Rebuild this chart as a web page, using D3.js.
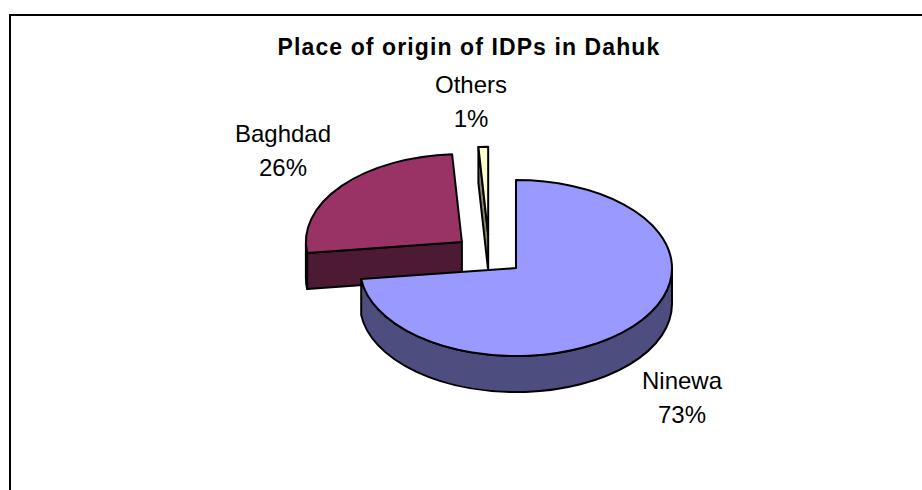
<!DOCTYPE html>
<html>
<head>
<meta charset="utf-8">
<script src="https://cdn.jsdelivr.net/npm/d3@7"></script>
<style>
  body { margin: 0; background: #fff; }
  svg { display: block; }
</style>
</head>
<body>
<div id="chart"></div>
<script>
const W = 922, H = 490

const title = "Place of origin of IDPs in Dahuk"
const places = ["Ninewa", "Baghdad", "Others"]
const shares = [73, 26, 1]
const topColors = ["#9999FF", "#993366", "#FFFFCC"]
const sideColors = ["#4D4D80", "#4D1A33", "#858566"]

// label anchor points (centre x, first baseline y)
const labelPos = [[682, 389], [283, 142], [471, 93]]

const svg = d3.select("#chart")
    .append("svg")
    .attr("width", W)
    .attr("height", H)

// frame around the chart
svg.append("rect")
    .attr("x", 10)
    .attr("y", 15)
    .attr("width", W + 20)
    .attr("height", H + 20)
    .attr("fill", "none")
    .attr("stroke", "black")
    .attr("stroke-width", 2)

svg.append("text")
    .attr("x", 469)
    .attr("y", 55)
    .attr("text-anchor", "middle")
    .attr("font-family", "Liberation Sans, Arial, sans-serif")
    .attr("font-weight", "bold")
    .attr("font-size", 23)
    .attr("letter-spacing", 1.1)
    .text(title)

// 3D pie geometry
const CX = 489.3, CY = 254.8
const RX = 156, RY = 88, DEPTH = 36, EXPLODE = 0.228

const pie = d3.pie().sort(null).startAngle(0).endAngle(2 * Math.PI)
const arcs = pie(shares).map((d, i) => {
    const mid = (d.startAngle + d.endAngle) / 2
    return {
        ...d, i,
        ax: CX + EXPLODE * RX * Math.sin(mid),
        ay: CY - EXPLODE * RY * Math.cos(mid)
    }
})

const pt = (s, t, dy = 0) => [s.ax + RX * Math.sin(t), s.ay - RY * Math.cos(t) + dy]

function topPath(s) {
    const p0 = pt(s, s.startAngle), p1 = pt(s, s.endAngle)
    const large = s.endAngle - s.startAngle > Math.PI ? 1 : 0
    return `M${s.ax},${s.ay}L${p0}A${RX},${RY} 0 ${large} 1 ${p1}Z`
}

function outerSide(s) {
    const a = Math.max(s.startAngle, Math.PI / 2)
    const b = Math.min(s.endAngle, 3 * Math.PI / 2)
    if (b <= a) return null
    const p0 = pt(s, a), p1 = pt(s, b), q1 = pt(s, b, DEPTH), q0 = pt(s, a, DEPTH)
    return `M${p0}A${RX},${RY} 0 0 1 ${p1}L${q1}A${RX},${RY} 0 0 0 ${q0}Z`
}

function cutFace(s, t) {
    const p = pt(s, t), q = pt(s, t, DEPTH)
    return `M${s.ax},${s.ay}L${p}L${q}L${s.ax},${s.ay + DEPTH}Z`
}

const drawOrder = arcs.slice().sort((a, b) => a.ay - b.ay)

const g = svg.append("g")
    .attr("stroke", "black")
    .attr("stroke-width", 2)
    .attr("stroke-linejoin", "round")

drawOrder.forEach(s => {
    // cut face at start angle faces the viewer when sin(start) < 0
    if (Math.sin(s.startAngle) < -0.01) {
        g.append("path").attr("d", cutFace(s, s.startAngle)).attr("fill", sideColors[s.i])
    }
    if (Math.sin(s.endAngle) > 0.01) {
        g.append("path").attr("d", cutFace(s, s.endAngle)).attr("fill", sideColors[s.i])
    }
    const side = outerSide(s)
    if (side) g.append("path").attr("d", side).attr("fill", sideColors[s.i])
    g.append("path").attr("d", topPath(s)).attr("fill", topColors[s.i])
})

// labels
const total = d3.sum(shares)
arcs.forEach(s => {
    const [lx, ly] = labelPos[s.i]
    const t = svg.append("text")
        .attr("text-anchor", "middle")
        .attr("font-family", "Liberation Sans, Arial, sans-serif")
        .attr("font-size", 24)
    t.append("tspan").attr("x", lx).attr("y", ly).text(places[s.i])
    t.append("tspan").attr("x", lx).attr("y", ly + 34)
        .text(Math.round(shares[s.i] / total * 100) + "%")
})
</script>
</body>
</html>
